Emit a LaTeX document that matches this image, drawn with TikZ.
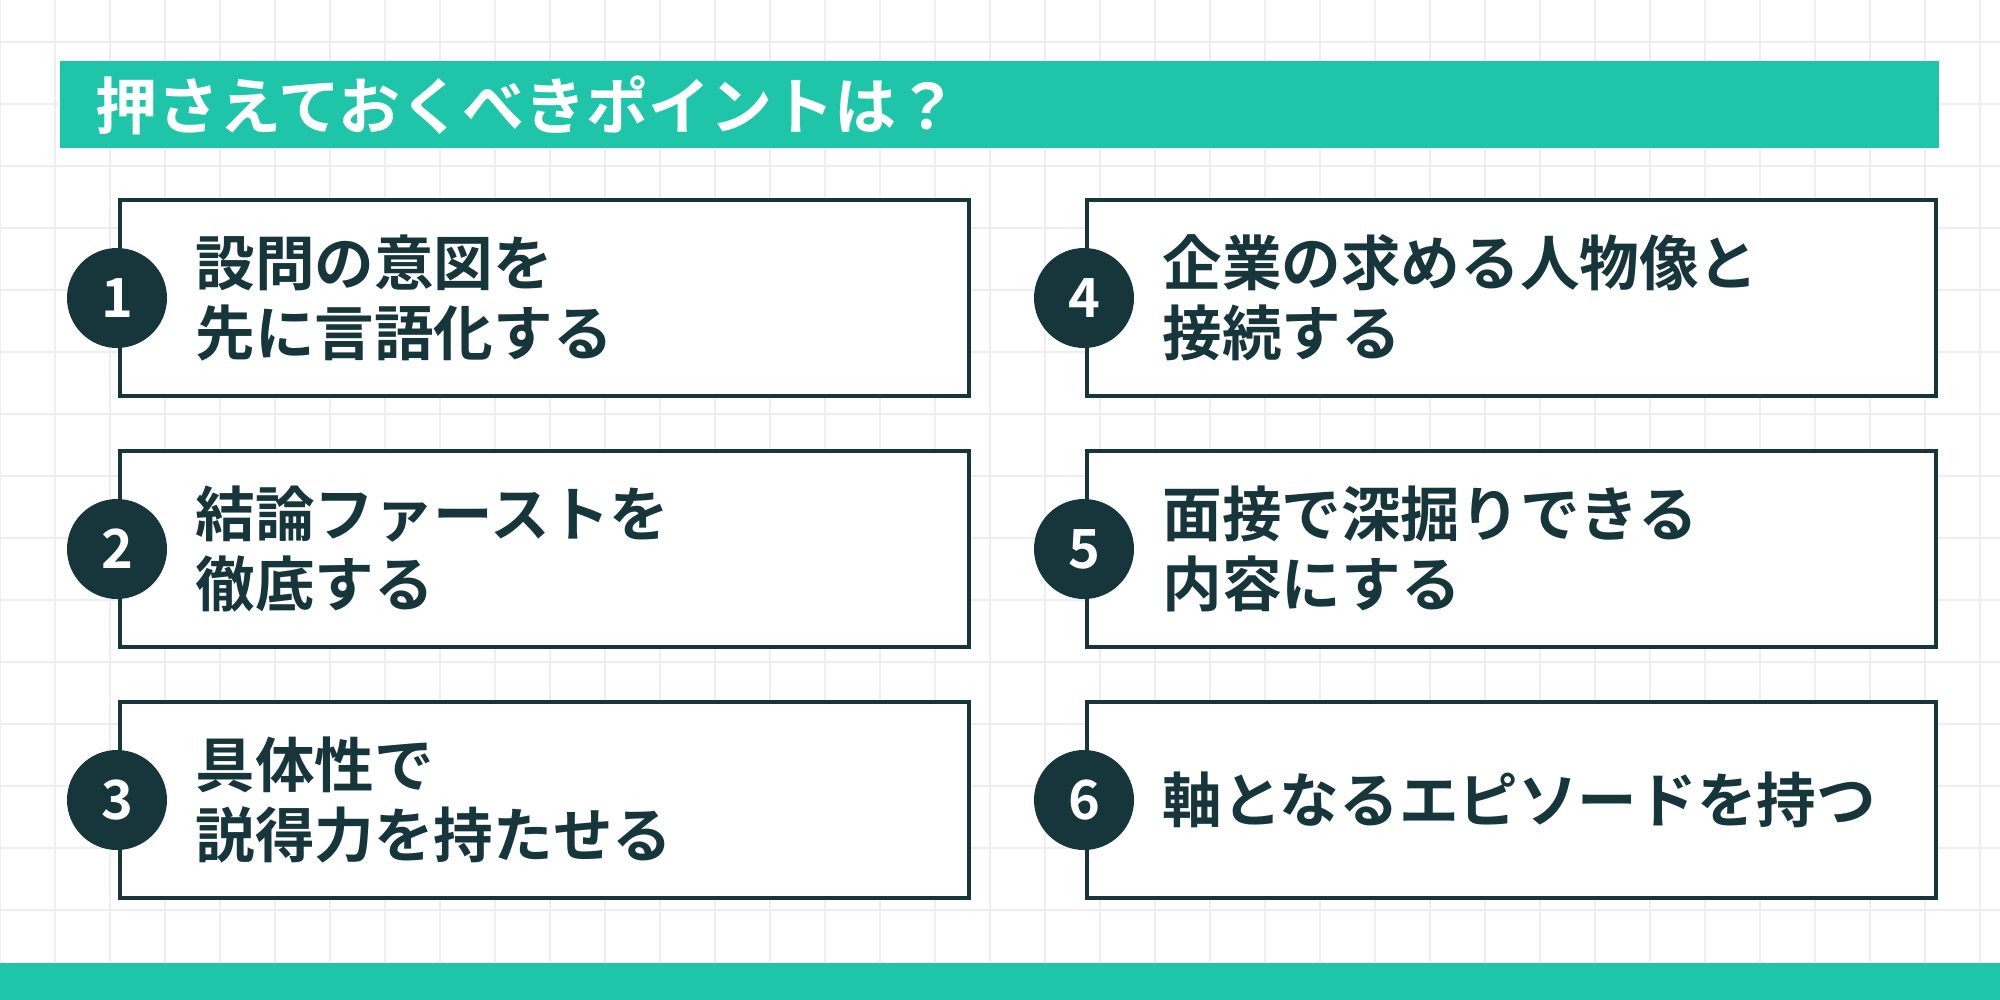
\documentclass[tikz,border=0pt]{standalone}
\usepackage{fontspec}
\newfontfamily\jp{Noto Sans CJK JP Bold}
\definecolor{teal}{HTML}{1EC5A8}
\definecolor{dark}{HTML}{17363B}
\definecolor{gridc}{HTML}{EEEEEE}
\tikzset{
 item/.style={draw=dark,line width=1.6pt,fill=white},
 num/.style={circle,fill=dark,minimum size=50pt,inner sep=0pt,text=white,font=\jp\fontsize{27}{27}\selectfont},
 lbl/.style={anchor=west,align=left,text=dark,font=\jp\fontsize{29.8}{35}\selectfont,inner sep=0pt}
}
\begin{document}
\begin{tikzpicture}[x=0.5pt,y=-0.5pt]
\useasboundingbox (0,0) rectangle (2000,1000);
\fill[white] (0,0) rectangle (2000,1000);
\foreach \x in {0,55,...,2000} \draw[gridc,line width=0.8pt] (\x,0) -- (\x,1000);
\foreach \y in {42,104,...,1000} \draw[gridc,line width=0.8pt] (0,\y) -- (2000,\y);
\fill[teal] (60,61) rectangle (1939,148);
\node[anchor=west,text=white,font=\jp\fontsize{31}{31}\selectfont,inner sep=0pt] (title) at (95,105) {押さえておくべきポイントは？};
\fill[teal] (0,963) rectangle (2000,1000);
\foreach \n/\x/\y/\t in {1/120/200/{設問の意図を\\先に言語化する},2/120/451/{結論ファーストを\\徹底する},3/120/702/{具体性で\\説得力を持たせる},4/1087/200/{企業の求める人物像と\\接続する},5/1087/451/{面接で深掘りできる\\内容にする},6/1087/702/{軸となるエピソードを持つ}}{
 \draw[item] (\x,\y) rectangle ++(849,196);
 \node[num] (c\n) at (\x-3,\y+98) {\n};
 \node[lbl] (t\n) at (\x+75,\y+98) {\t};
}
\end{tikzpicture}
\end{document}
